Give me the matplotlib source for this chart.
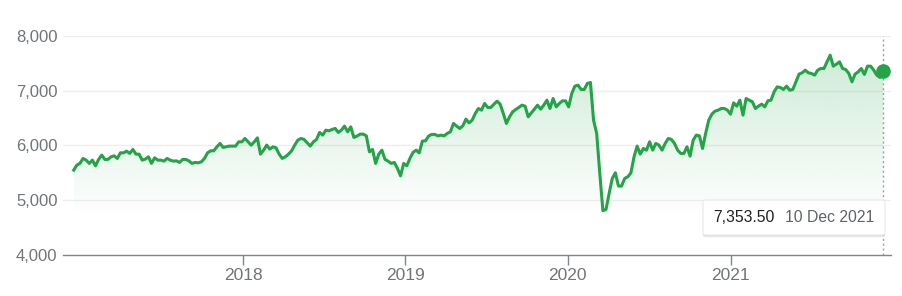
import numpy as np
import pandas as pd
import matplotlib
matplotlib.use("Agg")
import matplotlib.pyplot as plt
import matplotlib.dates as mdates
from matplotlib.patches import FancyBboxPatch
from matplotlib.ticker import FuncFormatter

# ---- data (weekly closes) ----
start_date = "2016-12-16"
end_date = "2021-12-10"
values = [
    5546, 5638, 5669, 5760, 5729, 5669, 5729, 5625, 5742, 5821,
    5742, 5742, 5790, 5808, 5760, 5863, 5863, 5894, 5852, 5925,
    5839, 5839, 5729, 5748, 5790, 5669, 5772, 5729, 5729, 5711,
    5760, 5729, 5711, 5716, 5687, 5742, 5742, 5716, 5669, 5687,
    5680, 5698, 5760, 5863, 5900, 5900, 5973, 6035, 5962, 5973,
    5986, 5986, 5986, 6064, 6064, 6126, 6064, 6004, 6064, 6137,
    5839, 5912, 6004, 5931, 5973, 5955, 5839, 5760, 5790, 5839,
    5900, 6004, 6095,
    6126, 6108, 6046, 5986, 6064, 6108, 6236, 6187, 6278, 6265,
    6291, 6309, 6236, 6278, 6352, 6247, 6339, 6145, 6169, 6205,
    6205, 6174, 5881, 5925, 5669, 5839, 5912, 5742, 5711, 5669,
    5687, 5577, 5442, 5669, 5625, 5760, 5870, 5912, 5863, 6077,
    6083, 6169, 6200, 6200, 6174, 6187, 6174, 6218, 6247, 6401,
    6352, 6309, 6357, 6480, 6412, 6461, 6584, 6675, 6644, 6767,
    6694, 6694, 6754, 6809, 6754, 6584, 6401, 6522, 6613, 6657,
    6694, 6736, 6718, 6522, 6595, 6663, 6736, 6663, 6736, 6827,
    6675, 6858, 6705,
    6767, 6815, 6815, 6705, 6950, 7084, 7102, 7023, 7023, 7133,
    7151, 6461, 6218, 5486, 4802, 4827, 5120, 5394, 5497, 5254,
    5254, 5394, 5424, 5497, 5790, 5986, 5839, 5943, 5912, 6064,
    5912, 6035,
    6004, 5912, 6035, 6126, 6108, 6035, 5912, 5852, 5852, 5973,
    5803, 6095, 6187, 6174, 5943, 6218, 6461, 6571, 6626, 6644,
    6675, 6675, 6644, 6571, 6778, 6718, 6827, 6553, 6858, 6827,
    6797, 6675, 6718, 6754,
    6705, 6815, 6827, 6980, 7071, 7059, 7023, 7084, 7010, 7023,
    7163, 7304, 7328, 7377, 7328, 7316, 7285, 7377, 7407, 7407,
    7529, 7651, 7450, 7486, 7529, 7407, 7389, 7316, 7163, 7304,
    7346, 7407, 7298, 7450, 7450, 7377, 7285, 7243, 7353.5,
]
y_ticks = [4000, 5000, 6000, 7000, 8000]
x_tick_years = ["2018", "2019", "2020", "2021"]
tooltip_value = "7,353.50"
tooltip_date = "10 Dec 2021"

dates = pd.date_range(start_date, end_date, freq="7D")
values = np.array(values, dtype=float)

GREEN = "#22a447"
plt.rcParams["font.family"] = ["Liberation Sans", "DejaVu Sans"]

fig = plt.figure(figsize=(9.03, 2.96), dpi=100)
ax = fig.add_axes([0.0698, 0.140, 0.917, 0.738])

ax.set_ylim(4000, 8000)
ax.set_xlim(pd.Timestamp("2016-11-22"), pd.Timestamp("2021-12-28"))

# gridlines
for v in y_ticks[1:]:
    ax.axhline(v, color="#eeeeee", lw=1.0, zorder=0)

# gradient fill under the line
xnum = mdates.date2num(dates)
poly = ax.fill_between(dates, values, 4000, color="none", lw=0)
top_v, bot_v = 7700, 4700
rgba = np.zeros((256, 1, 4))
rgba[..., 0] = 0x22 / 255
rgba[..., 1] = 0xa4 / 255
rgba[..., 2] = 0x47 / 255
yy = np.linspace(4000, 8000, 256).reshape(-1, 1)
alpha = np.clip((yy - bot_v) / (top_v - bot_v), 0, 1) * 0.22
rgba[..., 3] = alpha
img = ax.imshow(rgba, origin="lower", aspect="auto",
                extent=[xnum[0], xnum[-1], 4000, 8000], zorder=1)
img.set_clip_path(poly.get_paths()[0], transform=ax.transData)

ax.plot(dates, values, color=GREEN, lw=2.2, zorder=3, solid_joinstyle="round")

# end marker and dotted cursor line
ax.plot([dates[-1], dates[-1]], [4000, 8000], color="#9aa0a6", lw=1.0,
        ls=(0, (1.5, 2)), zorder=2)
ax.plot(dates[-1], values[-1], "o", color=GREEN, ms=9.5, zorder=4)

# axes styling
for s in ["left", "right", "top"]:
    ax.spines[s].set_visible(False)
ax.spines["bottom"].set_color("#80868b")
ax.spines["bottom"].set_linewidth(1.0)
ax.set_yticks(y_ticks)
ax.yaxis.set_major_formatter(FuncFormatter(lambda v, p: f"{int(v):,}"))
ax.tick_params(axis="y", length=0, pad=4, labelsize=12, labelcolor="#70757a")
ax.set_xticks([pd.Timestamp(f"{y}-01-01") for y in x_tick_years])
ax.set_xticklabels(x_tick_years)
ax.tick_params(axis="x", length=7, width=1, color="#80868b", pad=3,
               labelsize=12.5, labelcolor="#70757a")
ax.set_facecolor("white")

# tooltip
fig_w, fig_h = 903, 296
bx0, by0, bx1, by1 = 703, 200, 885, 235
for off, a in [(2.5, 0.25), (1.5, 0.45)]:
    shadow = FancyBboxPatch((bx0 / fig_w, 1 - (by1 + off) / fig_h),
                            (bx1 - bx0) / fig_w, (by1 - by0) / fig_h,
                            boxstyle="round,pad=0,rounding_size=0.004",
                            transform=fig.transFigure, facecolor="#c8c8c8",
                            edgecolor="none", zorder=10, alpha=a)
    fig.patches.append(shadow)
box = FancyBboxPatch((bx0 / fig_w, 1 - by1 / fig_h),
                     (bx1 - bx0) / fig_w, (by1 - by0) / fig_h,
                     boxstyle="round,pad=0,rounding_size=0.004",
                     transform=fig.transFigure, facecolor="white",
                     edgecolor="#e8e8e8", lw=0.8, zorder=11)
fig.patches.append(box)
fig.text(713 / fig_w, 1 - 217.5 / fig_h, tooltip_value, fontsize=11.3,
         color="#202124", va="center", ha="left", zorder=12)
fig.text(785 / fig_w, 1 - 217.5 / fig_h, tooltip_date, fontsize=11.3,
         color="#5f6368", va="center", ha="left", zorder=12)

fig.savefig("out.png", dpi=100, facecolor="white")
